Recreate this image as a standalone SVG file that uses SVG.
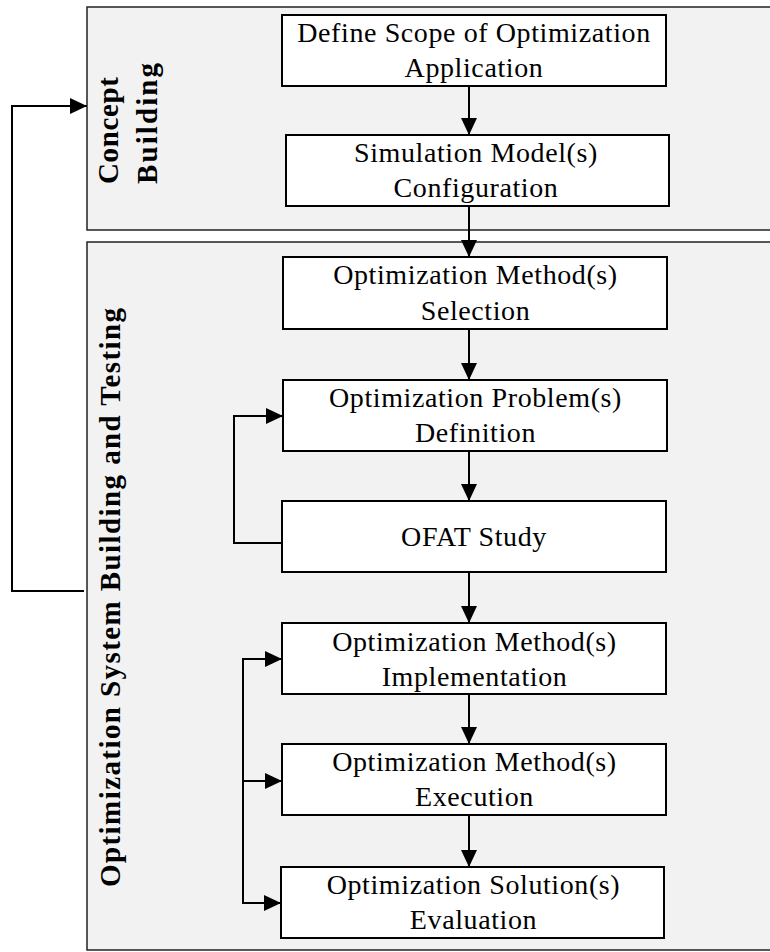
<svg xmlns="http://www.w3.org/2000/svg" width="770" height="952" viewBox="0 0 770 952">
<style>
.panel{fill:#f2f2f2;stroke:#222;stroke-width:1.5}
.box{fill:#fff;stroke:#000;stroke-width:2}
.t{font-family:"Liberation Serif","Times New Roman",serif;font-size:28px;letter-spacing:0.6px;text-anchor:middle;fill:#000}
.v{font-family:"Liberation Serif","Times New Roman",serif;font-size:29px;font-weight:bold;fill:#000}
.c{fill:none;stroke:#000;stroke-width:2}
</style>
<defs>
<marker id="ah" markerUnits="userSpaceOnUse" markerWidth="17" markerHeight="16" refX="17" refY="8" orient="auto">
<path d="M0,0 L17,8 L0,16 z" fill="#000"/>
</marker>
</defs>
<rect fill="#fff" width="770" height="952"/>
<g id="panel-concept">
<rect class="panel" x="87" y="7" width="700" height="223"/>
<text class="v" transform="translate(118,184) rotate(-90)" textLength="107" lengthAdjust="spacing">Concept</text>
<text class="v" transform="translate(157,184) rotate(-90)" textLength="121" lengthAdjust="spacing">Building</text>
</g>
<g id="panel-optimization">
<rect class="panel" x="87" y="242" width="700" height="708"/>
<text class="v" transform="translate(120,597.5) rotate(-90)" text-anchor="middle" textLength="579" lengthAdjust="spacing">Optimization System Building and Testing</text>
</g>
<g id="n-scope">
<rect class="box" x="282" y="15" width="384" height="71"/>
<text class="t" x="474" y="42">Define Scope of Optimization</text>
<text class="t" x="474" y="77">Application</text>
</g>
<g id="n-sim">
<rect class="box" x="286" y="135" width="383" height="71"/>
<text class="t" x="476" y="162">Simulation Model(s)</text>
<text class="t" x="476" y="197">Configuration</text>
</g>
<g id="n-selection">
<rect class="box" x="283" y="257" width="384" height="72"/>
<text class="t" x="475.5" y="284">Optimization Method(s)</text>
<text class="t" x="475.5" y="320">Selection</text>
</g>
<g id="n-definition">
<rect class="box" x="283" y="380" width="384" height="71"/>
<text class="t" x="475.5" y="407">Optimization Problem(s)</text>
<text class="t" x="475.5" y="442">Definition</text>
</g>
<g id="n-ofat">
<rect class="box" x="282" y="501" width="384" height="71"/>
<text class="t" x="474" y="546">OFAT Study</text>
</g>
<g id="n-implementation">
<rect class="box" x="282" y="623" width="384" height="71"/>
<text class="t" x="474.5" y="651">Optimization Method(s)</text>
<text class="t" x="474.5" y="686">Implementation</text>
</g>
<g id="n-execution">
<rect class="box" x="282" y="744" width="384" height="71"/>
<text class="t" x="474.5" y="771">Optimization Method(s)</text>
<text class="t" x="474.5" y="806">Execution</text>
</g>
<g id="n-evaluation">
<rect class="box" x="281" y="867" width="383" height="71"/>
<text class="t" x="473.5" y="894">Optimization Solution(s)</text>
<text class="t" x="473.5" y="929">Evaluation</text>
</g>
<g id="connectors">
<line class="c" x1="469" y1="86" x2="469" y2="135" marker-end="url(#ah)"/>
<line class="c" x1="469" y1="206" x2="469" y2="257" marker-end="url(#ah)"/>
<line class="c" x1="469" y1="329" x2="469" y2="380" marker-end="url(#ah)"/>
<line class="c" x1="469" y1="451" x2="469" y2="501" marker-end="url(#ah)"/>
<line class="c" x1="469" y1="572" x2="469" y2="623" marker-end="url(#ah)"/>
<line class="c" x1="469" y1="694" x2="469" y2="744" marker-end="url(#ah)"/>
<line class="c" x1="469" y1="815" x2="469" y2="867" marker-end="url(#ah)"/>
<polyline class="c" points="84,591 12,591 12,106 87,106" marker-end="url(#ah)"/>
<polyline class="c" points="283,543 234,543 234,416 283,416" marker-end="url(#ah)"/>
<line class="c" x1="243" y1="658" x2="243" y2="904"/>
<line class="c" x1="242" y1="659" x2="282" y2="659" marker-end="url(#ah)"/>
<line class="c" x1="242" y1="781" x2="282" y2="781" marker-end="url(#ah)"/>
<line class="c" x1="242" y1="903" x2="281" y2="903" marker-end="url(#ah)"/>
</g>
</svg>
